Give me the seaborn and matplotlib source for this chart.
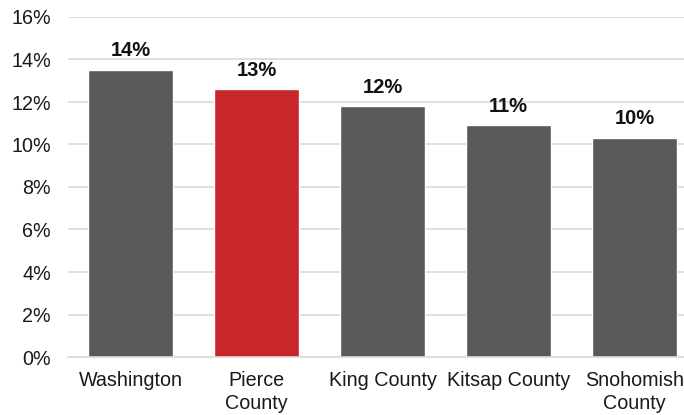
import matplotlib
matplotlib.use("Agg")
import matplotlib.pyplot as plt
import seaborn as sns
import pandas as pd

regions = ["Washington", "Pierce\nCounty", "King County", "Kitsap County", "Snohomish\nCounty"]
rates = [13.5, 12.6, 11.8, 10.9, 10.3]
bar_colors = ["#595959", "#C8262A", "#595959", "#595959", "#595959"]
y_ticks = [0, 2, 4, 6, 8, 10, 12, 14, 16]

df = pd.DataFrame({"region": regions, "rate": rates})

sns.set_theme(style="white")
plt.rcParams["font.family"] = ["Liberation Sans", "DejaVu Sans"]

fig = plt.figure(figsize=(6.84, 4.15), dpi=100)
ax = fig.add_axes([67.5 / 684, (415 - 357) / 415, 1 - 67.5 / 684, 340 / 415])

sns.barplot(data=df, x="region", y="rate", hue="region", palette=bar_colors,
            legend=False, width=0.667, ax=ax, saturation=1)

ax.set_ylim(0, 16)
ax.set_xlim(-0.5, 4.5 - 13.5 / 126)
ax.set_yticks(y_ticks)
ax.set_yticklabels([f"{t}%" for t in y_ticks], fontsize=14.2, color="#1A1A1A")
ax.tick_params(axis="x", labelsize=14.2, colors="#1A1A1A", length=0, pad=10)
ax.tick_params(axis="y", length=0, pad=12)
for lbl in ax.get_xticklabels():
    lbl.set_linespacing(1.3)

ax.yaxis.grid(True, color="#D9D9D9", linewidth=1.2)
ax.set_axisbelow(True)
for side in ["top", "right", "left"]:
    ax.spines[side].set_visible(False)
ax.spines["bottom"].set_color("#D9D9D9")
ax.spines["bottom"].set_linewidth(1.2)
ax.set_xlabel("")
ax.set_ylabel("")

for patch, val in zip(ax.patches, rates):
    ax.annotate(f"{val:.0f}%", (patch.get_x() + patch.get_width() / 2, patch.get_height()),
                xytext=(0, 7), textcoords="offset points", ha="center", va="bottom",
                fontsize=14.5, fontweight="bold", color="#111111")

fig.savefig("out.png", dpi=100)
